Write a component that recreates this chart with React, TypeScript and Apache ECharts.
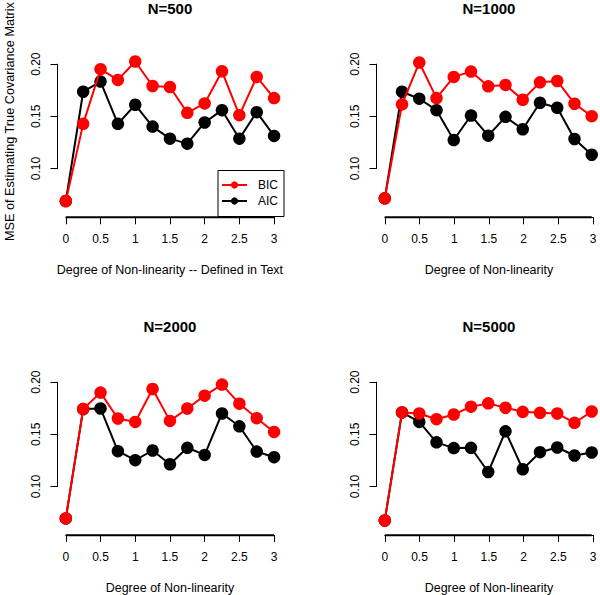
import React, { useEffect, useRef } from "react";
import * as echarts from "echarts";

const degrees = [0, 0.25, 0.5, 0.75, 1, 1.25, 1.5, 1.75, 2, 2.25, 2.5, 2.75, 3];
// tick labels: x axis 0..3 by 0.5, y axis 0.10..0.20 by 0.05
const xTickStart = 0;
const xTickEnd = 3;
const xTickStep = 0.5;
const yTickStart = 0.1;
const yTickEnd = 0.2;
const yTickStep = 0.05;
const panelTitles = ["N=500", "N=1000", "N=2000", "N=5000"];
const xAxisTitles = [
  "Degree of Non-linearity -- Defined in Text",
  "Degree of Non-linearity",
  "Degree of Non-linearity",
  "Degree of Non-linearity",
];
const yAxisTitle = "MSE of Estimating True Covariance Matrix";
const seriesNames = ["BIC", "AIC"];

const bicN500 = [0.0688, 0.1428, 0.1952, 0.1849, 0.2026, 0.1791, 0.1781, 0.1534, 0.1624, 0.1932, 0.1511, 0.1878, 0.1675];
const aicN500 = [0.0688, 0.1736, 0.1833, 0.1428, 0.1611, 0.1402, 0.1286, 0.1238, 0.1441, 0.1559, 0.1286, 0.154, 0.1312];
const bicN1000 = [0.0714, 0.1614, 0.2016, 0.1675, 0.1878, 0.1929, 0.1788, 0.1801, 0.1659, 0.1826, 0.1839, 0.1621, 0.1502];
const aicN1000 = [0.0714, 0.1736, 0.1669, 0.1559, 0.1273, 0.1508, 0.1315, 0.1495, 0.1376, 0.163, 0.1582, 0.1283, 0.1132];
const bicN2000 = [0.0694, 0.1742, 0.19, 0.1652, 0.1619, 0.1935, 0.1629, 0.1748, 0.1871, 0.1977, 0.1794, 0.1655, 0.1523];
const aicN2000 = [0.0694, 0.1742, 0.1748, 0.1339, 0.1252, 0.1345, 0.1213, 0.1371, 0.1303, 0.17, 0.1577, 0.1335, 0.1281];
const bicN5000 = [0.0674, 0.171, 0.17, 0.1645, 0.169, 0.1765, 0.1797, 0.1755, 0.1716, 0.1706, 0.17, 0.161, 0.1719];
const aicN5000 = [0.0674, 0.171, 0.1619, 0.1423, 0.1368, 0.1371, 0.1139, 0.1529, 0.1165, 0.1329, 0.1374, 0.1297, 0.1326];

const bicPanels = [bicN500, bicN1000, bicN2000, bicN5000];
const aicPanels = [aicN500, aicN1000, aicN2000, aicN5000];

// R plot-region extents
const X_MIN = -0.12;
const X_MAX = 3.12;
const Y_MIN = 0.0532;
const Y_MAX = 0.2368;

const FONT = '"Liberation Sans", Arial, Helvetica, sans-serif';

export default function App() {
  const ref = useRef<HTMLDivElement>(null);

  useEffect(() => {
    document.body.style.margin = "0";
    if (!ref.current) return;
    const chart = echarts.init(ref.current, null, { renderer: "svg" });

    const plotW = 224.9;
    const plotH = 191.5;
    const lefts = [57.5, 376.5, 57.5, 376.5];
    const tops = [25.8, 25.8, 343.8, 343.8];
    const xPerPx = (X_MAX - X_MIN) / plotW;
    const yPerPx = (Y_MAX - Y_MIN) / plotH;

    const grids: any[] = [];
    const xAxes: any[] = [];
    const yAxes: any[] = [];
    const series: any[] = [];
    const graphics: any[] = [];

    const hiddenX = (g: number) => ({ type: "value", gridIndex: g, show: false, min: 0, max: 1 });
    const hiddenY = (g: number) => ({ type: "value", gridIndex: g, show: false, min: 0, max: 1 });

    for (let i = 0; i < 4; i++) {
      // data grid (R plot region), axes hidden
      const gData = grids.length;
      grids.push({ left: lefts[i], top: tops[i], width: plotW, height: plotH });
      xAxes.push({ type: "value", gridIndex: gData, show: false, min: X_MIN, max: X_MAX });
      yAxes.push({ type: "value", gridIndex: gData, show: false, min: Y_MIN, max: Y_MAX });

      // R-style x axis: spans first..last tick at the bottom of the plot region
      const gX = grids.length;
      grids.push({
        left: lefts[i] + (xTickStart - X_MIN) / xPerPx,
        width: (xTickEnd - xTickStart) / xPerPx,
        top: tops[i],
        height: plotH,
      });
      xAxes.push({
        type: "value",
        gridIndex: gX,
        position: "bottom",
        min: xTickStart,
        max: xTickEnd,
        interval: xTickStep,
        axisLine: { show: true, onZero: false, lineStyle: { color: "#000", width: 1 } },
        axisTick: { show: true, length: 7, lineStyle: { color: "#000", width: 1 } },
        splitLine: { show: false },
        axisLabel: {
          margin: 16,
          color: "#000",
          fontSize: 12,
          fontFamily: FONT,
          showMinLabel: true,
          showMaxLabel: true,
          formatter: (v: number) => String(v),
        },
        name: xAxisTitles[i],
        nameLocation: "middle",
        nameGap: 46,
        nameTextStyle: { color: "#000", fontSize: 12.5, fontFamily: FONT },
      });
      yAxes.push(hiddenY(gX));

      // R-style y axis: spans first..last tick at the left of the plot region
      const gY = grids.length;
      grids.push({
        left: lefts[i],
        width: plotW,
        top: tops[i] + (Y_MAX - yTickEnd) / yPerPx,
        height: (yTickEnd - yTickStart) / yPerPx,
      });
      xAxes.push(hiddenX(gY));
      yAxes.push({
        type: "value",
        gridIndex: gY,
        position: "left",
        min: yTickStart,
        max: yTickEnd,
        interval: yTickStep,
        axisLine: { show: true, onZero: false, lineStyle: { color: "#000", width: 1 } },
        axisTick: { show: true, length: 7, lineStyle: { color: "#000", width: 1 } },
        splitLine: { show: false },
        axisLabel: {
          rotate: 90,
          margin: 16,
          color: "#000",
          fontSize: 12,
          fontFamily: FONT,
          showMinLabel: true,
          showMaxLabel: true,
          formatter: (v: number) => v.toFixed(2),
        },
      });

      // baseline of the x axis drawn on the data grid (first..last tick)
      series.push({
        type: "line",
        xAxisIndex: gData,
        yAxisIndex: gData,
        clip: false,
        silent: true,
        symbol: "none",
        z: 1,
        lineStyle: { color: "#000", width: 2 },
        emphasis: { disabled: true },
        data: [
          [xTickStart, Y_MIN],
          [xTickEnd, Y_MIN],
        ],
      });

      series.push({
        type: "line",
        name: seriesNames[1],
        xAxisIndex: gData,
        yAxisIndex: gData,
        z: 2,
        symbol: "circle",
        symbolSize: 12.5,
        showSymbol: true,
        lineStyle: { color: "#000", width: 2 },
        itemStyle: { color: "#000" },
        emphasis: { disabled: true },
        data: degrees.map((d, j) => [d, aicPanels[i][j]]),
      });
      series.push({
        type: "line",
        name: seriesNames[0],
        xAxisIndex: gData,
        yAxisIndex: gData,
        z: 3,
        symbol: "circle",
        symbolSize: 12.5,
        showSymbol: true,
        lineStyle: { color: "#ff0000", width: 2 },
        itemStyle: { color: "#ff0000" },
        emphasis: { disabled: true },
        data: degrees.map((d, j) => [d, bicPanels[i][j]]),
      });

      graphics.push({
        type: "text",
        x: lefts[i] + plotW / 2,
        y: tops[i] - 17.8,
        style: {
          text: panelTitles[i],
          fill: "#000",
          fontSize: 15,
          fontWeight: "bold",
          fontFamily: FONT,
          align: "center",
          verticalAlign: "middle",
        },
      });
    }

    // y-axis title of the first panel, centred on its plot region
    graphics.push({
      type: "text",
      x: 9.5,
      y: tops[0] + plotH / 2,
      rotation: Math.PI / 2,
      style: {
        text: yAxisTitle,
        fill: "#000",
        fontSize: 12.7,
        fontFamily: FONT,
        align: "center",
        verticalAlign: "middle",
      },
    });

    chart.setOption({
      animation: false,
      backgroundColor: "#fff",
      grid: grids,
      xAxis: xAxes,
      yAxis: yAxes,
      series,
      graphic: graphics,
      legend: {
        data: seriesNames,
        orient: "vertical",
        left: 218,
        top: 170.5,
        padding: [8.5, 6, 9.5, 3],
        itemWidth: 25,
        itemHeight: 9,
        itemGap: 4,
        borderColor: "#000",
        borderWidth: 1,
        borderRadius: 0,
        selectedMode: false,
        textStyle: { color: "#000", fontSize: 12, fontFamily: FONT, padding: [0, 0, 0, 6] },
      },
    });

    return () => chart.dispose();
  }, []);

  return <div ref={ref} style={{ width: 600, height: 595 }} />;
}
